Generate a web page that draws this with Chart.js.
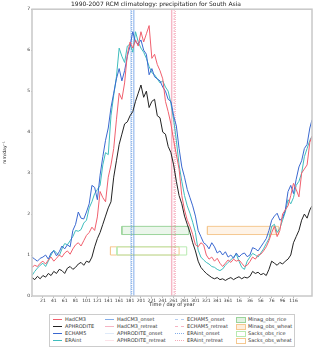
<!DOCTYPE html>
<html>
<head>
<meta charset="utf-8">
<script src="https://cdn.jsdelivr.net/npm/chart.js@4"></script>
<style>
  body { margin: 0; background: #fff; font-family: "DejaVu Sans", sans-serif; }
  #wrap { position: relative; width: 320px; height: 349px; }
  #chartBox { position: absolute; left: 0; top: 0; width: 320px; height: 310px; }
  #legend { position: absolute; left: 49px; top: 314px; width: 244px; height: 31px;
            border: 1px solid #ccc; font-size: 5px; color: #333; }
  .item { position: absolute; height: 7px; line-height: 7px; white-space: nowrap; }
  .swatch { position: absolute; left: 0; top: 3px; width: 9px; height: 0; }
  .box { position: absolute; left: 0; top: 1px; width: 8px; height: 4px; }
  .txt { position: absolute; left: 12px; top: 0; }
</style>
</head>
<body>
<div id="wrap">
  <div id="chartBox"><canvas id="rainChart"></canvas></div>
  <div id="legend"></div>
</div>
<script>
// daily climatology sampled every 5 days, index 0 = 1 Jan, runs on past 31 Dec
const hadcm3 = [
  0.70,0.75,0.72,0.80,0.85,0.78,0.88,0.95,0.85,0.92,
  1.00,0.95,1.05,1.10,1.02,1.15,1.25,1.30,1.22,1.35,
  1.48,1.55,1.68,1.60,1.93,2.55,2.40,2.30,2.90,3.20,
  3.60,4.30,4.95,4.80,5.20,5.90,6.20,6.05,6.25,6.10,
  6.45,6.20,6.40,6.60,5.80,5.90,5.65,5.50,5.30,4.75,
  4.50,4.20,3.80,3.45,3.10,2.45,2.10,1.85,1.70,1.50,
  1.25,1.20,1.30,1.25,1.00,0.90,0.95,0.85,0.92,0.80,
  0.72,0.80,0.88,0.82,0.90,0.85,0.88,0.80,0.72,0.75,
  0.84,0.95,0.90,1.00,1.02,1.10,1.20,1.35,1.55,1.70,
  1.45,1.60,2.00,2.10,2.20,2.45,2.75,2.60,2.42,3.00,
  3.10,3.20,3.75,3.90
];
const aphrodite = [
  0.45,0.40,0.48,0.42,0.50,0.46,0.55,0.50,0.60,0.55,
  0.65,0.62,0.55,0.68,0.72,0.65,0.70,0.78,0.82,0.75,
  0.85,0.82,0.95,1.20,1.40,1.55,1.75,1.95,2.15,2.30,
  2.90,3.30,3.70,3.95,4.20,4.25,4.40,4.50,4.75,4.95,
  5.15,4.85,5.00,4.60,4.75,4.80,4.40,4.35,4.00,3.95,
  3.65,3.50,3.20,2.80,2.45,2.25,1.95,1.75,1.55,1.30,
  1.10,0.85,0.70,0.62,0.55,0.50,0.45,0.42,0.45,0.40,
  0.42,0.38,0.42,0.45,0.40,0.44,0.47,0.42,0.46,0.44,
  0.48,0.60,0.55,0.58,0.52,0.55,0.50,0.65,0.85,0.80,
  0.75,0.82,0.78,0.85,0.90,1.00,1.30,1.45,1.60,1.85,
  2.00,1.90,2.10,2.20
];
const echam5 = [
  0.95,0.90,0.85,0.92,0.95,1.00,0.90,1.05,1.10,0.98,
  1.08,1.22,1.15,1.25,1.20,1.60,1.75,2.05,1.90,1.88,
  2.05,2.25,2.70,2.65,2.35,2.95,3.40,3.80,4.10,4.60,
  4.95,5.30,5.55,5.25,5.50,5.85,6.10,6.45,6.20,6.15,
  6.25,6.00,5.90,5.40,5.55,5.35,5.30,5.25,5.10,5.00,
  4.80,4.75,4.40,4.15,3.60,3.15,2.90,2.60,2.40,2.20,
  1.95,1.60,1.45,1.30,1.25,1.15,1.30,1.20,1.05,1.10,
  1.00,1.08,0.95,1.00,0.92,1.05,0.95,1.02,1.05,0.96,
  1.00,1.18,1.15,1.10,1.20,1.30,1.40,1.60,1.85,1.95,
  2.02,1.85,1.90,2.10,2.55,2.70,2.50,2.85,3.15,3.30,
  3.60,3.70,4.10,4.30
];
const eraint = [
  0.50,0.60,0.68,0.75,0.80,0.72,0.85,1.00,1.12,1.05,
  0.98,1.15,1.28,1.25,1.35,1.45,1.60,1.58,1.62,1.78,
  1.85,2.15,2.30,2.50,2.60,2.70,3.20,3.50,3.45,4.40,
  4.90,5.35,6.05,5.85,5.70,6.10,6.15,5.95,6.45,6.20,
  6.05,5.95,5.80,5.60,5.45,5.40,5.30,5.20,5.25,5.10,
  5.00,4.70,4.30,3.80,3.20,2.80,2.45,2.20,2.02,1.80,
  1.55,1.12,0.95,0.88,0.82,0.78,0.72,0.70,0.65,0.62,
  0.66,0.75,0.82,0.88,0.95,1.02,0.85,0.70,0.65,0.85,
  0.95,1.04,1.00,0.95,1.05,1.15,1.28,1.40,1.70,1.75,
  1.55,1.65,1.85,2.05,2.35,2.25,2.40,2.70,2.80,3.00,
  3.40,3.60,3.80,3.90
];

// monsoon onset / retreat (day index) for HadCM3, APHRODITE, ECHAM5, ERAint
const onsetDays = [187, 181, 182, 183];
const retreatDays = [256, 258, 261, 263];

// growing seasons: [start day, end day, low, high]
const minagRice = [165, 288, 1.5, 1.7];
const minagWheat = [322, 453, 1.5, 1.7];
const sacksRice = [156, 284, 1.0, 1.2];
const sacksWheat = [144, 270, 1.0, 1.2];

const xTickLabels = ['21','41','61','81','101','121','141','161','181','201','221','241',
  '261','281','301','321','341','361','16','36','56','76','96','116'];
const yTicks = [0, 1, 2, 3, 4, 5, 6, 7];

const lastDay = 514;

function toPoints(values) {
  return values.map((v, i) => ({ x: Math.min(i * 5, lastDay), y: v }));
}

function seriesSet(label, values, color) {
  return { label, data: toPoints(values), borderColor: color, borderWidth: 1,
           pointRadius: 0, tension: 0, fill: false };
}

function vline(label, day, color, dash) {
  return { label, data: [{ x: day, y: 0 }, { x: day, y: 7 }], borderColor: color,
           borderWidth: 1, borderDash: dash, pointRadius: 0, fill: false };
}

// one box = a filled top edge down to the low value, plus an outline
function boxSets(label, b, edge, fillColor) {
  return [{
    label, data: [{ x: b[0], y: b[3] }, { x: b[1], y: b[3] }],
    borderWidth: 0, pointRadius: 0, order: 10,
    backgroundColor: fillColor || 'rgba(0,0,0,0)',
    fill: { target: { value: b[2] } }
  }, {
    label: label + '_edge',
    data: [{ x: b[0], y: b[2] }, { x: b[1], y: b[2] }, { x: b[1], y: b[3] },
           { x: b[0], y: b[3] }, { x: b[0], y: b[2] }],
    borderColor: edge, borderWidth: 1, pointRadius: 0, fill: false, order: 9
  }];
}

const colors = {
  red: '#f0606e', black: '#222222', blue: '#3a68d0', cyan: '#3fbdbd',
  onset: 'rgba(90,145,225,0.75)', onsetLight: 'rgba(150,185,235,0.3)', onsetDash: 'rgba(120,165,230,0.55)',
  retreat: 'rgba(240,130,155,0.6)', retreatLight: 'rgba(245,160,180,0.3)', retreatDot: 'rgba(235,110,135,0.6)',
  green: '#9bd49b', orange: '#f5c890', greenLight: '#b8eab0'
};

const datasets = [
  ...boxSets('Minag_obs_rice', minagRice, colors.green, 'rgba(60,170,60,0.1)'),
  ...boxSets('Minag_obs_wheat', minagWheat, colors.orange, 'rgba(245,160,60,0.12)'),
  ...boxSets('Sacks_obs_rice', sacksRice, colors.greenLight, null),
  ...boxSets('Sacks_obs_wheat', sacksWheat, colors.orange, null),
  seriesSet('HadCM3', hadcm3, colors.red),
  seriesSet('APHRODITE', aphrodite, colors.black),
  seriesSet('ECHAM5', echam5, colors.blue),
  seriesSet('ERAint', eraint, colors.cyan),
  vline('HadCM3_onset', onsetDays[0], colors.onset, []),
  vline('HadCM3_retreat', retreatDays[0], colors.retreat, []),
  vline('APHRODITE_onset', onsetDays[1], colors.onsetLight, []),
  vline('APHRODITE_retreat', retreatDays[1], colors.retreatLight, []),
  vline('ECHAM5_onset', onsetDays[2], colors.onsetDash, [2, 1]),
  vline('ECHAM5_retreat', retreatDays[2], colors.retreat, [2, 1]),
  vline('ERAint_onset', onsetDays[3], colors.onset, [1, 1]),
  vline('ERAint_retreat', retreatDays[3], colors.retreatDot, [1, 1])
];

// light grey frame round the plot, like the matplotlib axes box
const frame = {
  id: 'frame',
  afterDraw(chart) {
    const a = chart.chartArea, c = chart.ctx;
    c.save();
    c.strokeStyle = '#c8c8c8';
    c.lineWidth = 1.5;
    c.strokeRect(a.left, a.top, a.right - a.left, a.bottom - a.top);
    c.restore();
  }
};

const tickFont = { family: 'DejaVu Sans', size: 4.5 };

const ctx = document.getElementById('rainChart').getContext('2d');
const rainChart = new Chart(ctx, {
  type: 'line',
  data: { datasets },
  options: {
    responsive: true,
    maintainAspectRatio: false,
    animation: false,
    layout: { padding: { left: 0, right: 8, top: 0, bottom: 0 } },
    plugins: {
      legend: { display: false },
      tooltip: { enabled: false },
      title: {
        display: true,
        text: '1990-2007 RCM climatology: precipitation for South Asia',
        color: '#222',
        font: { family: 'DejaVu Sans', size: 6, weight: 'normal' },
        padding: { top: 1, bottom: 1 }
      }
    },
    scales: {
      x: {
        type: 'linear', min: 0, max: lastDay,
        afterFit: s => { s.height = 14; },
        afterBuildTicks: s => { s.ticks = xTickLabels.map((_, i) => ({ value: 20 + 20 * i })); },
        ticks: { font: tickFont, color: '#333', padding: 0, maxRotation: 0, autoSkip: false,
                 callback: (v, i) => xTickLabels[i] },
        grid: { display: true, drawOnChartArea: false, tickLength: 2, color: '#bbb' },
        border: { display: false },
        title: { display: true, text: 'Time / day of year', color: '#222',
                 font: { family: 'DejaVu Sans', size: 5 }, padding: { top: 0, bottom: 2 } }
      },
      y: {
        min: 0, max: 7,
        afterFit: s => { s.width = 32; },
        afterBuildTicks: s => { s.ticks = yTicks.map(v => ({ value: v })); },
        ticks: { font: tickFont, color: '#333', padding: 1 },
        grid: { display: true, drawOnChartArea: false, tickLength: 1, color: '#bbb' },
        border: { display: false },
        title: { display: true, text: 'mm/day\u207B\u00B9', color: '#222',
                 font: { family: 'DejaVu Sans', size: 4.5 }, padding: { top: 2, bottom: 0 } }
      }
    }
  },
  plugins: [frame]
});

// legend below the plot, four columns filled top to bottom
const legendItems = [
  ['HadCM3', colors.red, 'solid'], ['APHRODITE', colors.black, 'solid'],
  ['ECHAM5', colors.blue, 'solid'], ['ERAint', colors.cyan, 'solid'],
  ['HadCM3_onset', colors.onset, 'solid'], ['HadCM3_retreat', colors.retreat, 'solid'],
  ['APHRODITE_onset', colors.onsetLight, 'solid'], ['APHRODITE_retreat', colors.retreatLight, 'solid'],
  ['ECHAM5_onset', colors.onsetDash, 'dashed'], ['ECHAM5_retreat', colors.retreat, 'dashed'],
  ['ERAint_onset', colors.onset, 'dotted'], ['ERAint_retreat', colors.retreatDot, 'dotted'],
  ['Minag_obs_rice', colors.green, 'box', 'rgba(60,170,60,0.15)'],
  ['Minag_obs_wheat', colors.orange, 'box', 'rgba(245,160,60,0.18)'],
  ['Sacks_obs_rice', colors.greenLight, 'box', 'transparent'],
  ['Sacks_obs_wheat', colors.orange, 'box', 'transparent']
];
const colLeft = [3, 55, 125, 186];
const rowTop = [1, 8, 15, 22];

const legendEl = document.getElementById('legend');
legendItems.forEach((it, i) => {
  const item = document.createElement('div');
  item.className = 'item';
  item.style.left = colLeft[Math.floor(i / 4)] + 'px';
  item.style.top = rowTop[i % 4] + 'px';
  const mark = document.createElement('div');
  if (it[2] === 'box') {
    mark.className = 'box';
    mark.style.border = '1px solid ' + it[1];
    mark.style.background = it[3];
  } else {
    mark.className = 'swatch';
    mark.style.borderTop = '1px ' + it[2] + ' ' + it[1];
  }
  const txt = document.createElement('span');
  txt.className = 'txt';
  txt.textContent = it[0];
  item.appendChild(mark);
  item.appendChild(txt);
  legendEl.appendChild(item);
});
</script>
</body>
</html>
